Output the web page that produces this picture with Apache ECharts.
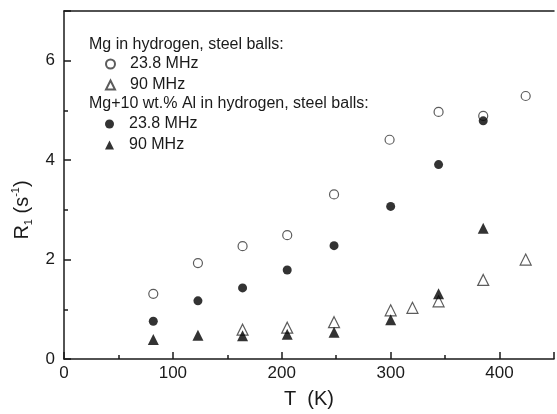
<!DOCTYPE html>
<html>
<head>
<meta charset="utf-8">
<script src="https://cdn.jsdelivr.net/npm/echarts@6/dist/echarts.min.js"></script>
<style>
  html, body { margin: 0; padding: 0; background: #fff; }
  #chart { width: 557px; height: 414px; }
</style>
</head>
<body>
<div id="chart"></div>
<script>
// Mg in hydrogen, steel balls
const tempMg238 = [82, 123, 164, 205, 248, 299, 344, 385, 424]
const rMg238 = [1.31, 1.93, 2.27, 2.49, 3.31, 4.41, 4.97, 4.89, 5.29]
const tempMg90 = [164, 205, 248, 300, 320, 344, 385, 424]
const rMg90 = [0.59, 0.63, 0.74, 0.98, 1.03, 1.16, 1.59, 2.0]
// Mg+10 wt.% Al in hydrogen, steel balls
const tempMgAl238 = [82, 123, 164, 205, 248, 300, 344, 385]
const rMgAl238 = [0.76, 1.17, 1.43, 1.79, 2.28, 3.07, 3.91, 4.79]
const tempMgAl90 = [82, 123, 164, 205, 248, 300, 344, 385]
const rMgAl90 = [0.39, 0.48, 0.47, 0.5, 0.54, 0.79, 1.31, 2.63]

const xTicks = [0, 100, 200, 300, 400]
const yTicks = [0, 2, 4, 6]

const font = 'Liberation Sans, Arial, sans-serif'
const ink = '#1a1a1a'

function pairs(xs, ys) {
  return xs.map((x, i) => [x, ys[i]])
}

let myCharts = echarts.init(document.getElementById('chart'))

myCharts.setOption({
  animation: false,
  textStyle: { fontFamily: font, color: ink },
  // legend headers
  title: [
    {
      text: 'Mg in hydrogen, steel balls:',
      left: 89, top: 37, padding: 0,
      textStyle: { fontSize: 16, fontWeight: 'normal', color: ink, fontFamily: font },
    },
    {
      text: 'Mg+10 wt.% Al in hydrogen, steel balls:',
      left: 89, top: 96, padding: 0,
      textStyle: { fontSize: 16, fontWeight: 'normal', color: ink, fontFamily: font },
    },
  ],
  legend: [
    {
      data: ['Mg 23.8 MHz', 'Mg 90 MHz'],
      orient: 'vertical',
      left: 105, top: 56, padding: 0,
      itemWidth: 9, itemHeight: 9, itemGap: 5,
      formatter: (n) => n.replace(/^\S+ /, ''),
      textStyle: { fontSize: 16, lineHeight: 15, color: ink, fontFamily: font, padding: [0, 0, 0, 10] },
    },
    {
      data: ['MgAl 23.8 MHz', 'MgAl 90 MHz'],
      orient: 'vertical',
      left: 105, top: 116, padding: 0,
      itemWidth: 9, itemHeight: 9, itemGap: 5,
      formatter: (n) => n.replace(/^\S+ /, ''),
      textStyle: { fontSize: 16, lineHeight: 15, color: ink, fontFamily: font, padding: [0, 0, 0, 10] },
    },
  ],
  grid: { left: 64, top: 11, right: -7, bottom: 52 },
  xAxis: [
    {
      type: 'value', position: 'bottom',
      min: 0, max: 450, interval: 100,
      name: 'T  (K)', nameLocation: 'middle', nameGap: 30,
      nameTextStyle: { fontSize: 20, color: ink, fontFamily: font },
      splitLine: { show: false },
      axisLine: { show: true, onZero: false, lineStyle: { color: ink, width: 1.5 } },
      axisTick: { show: true, inside: true, length: 7, lineStyle: { color: ink, width: 1.5 } },
      minorTick: { show: true, splitNumber: 2, length: 4, lineStyle: { color: ink, width: 1.5 } },
      axisLabel: {
        fontSize: 17, color: ink, margin: 6, fontFamily: font,
        formatter: (v) => (xTicks.includes(v) ? String(v) : ''),
      },
    },
    {
      type: 'value', position: 'top',
      min: 0, max: 450,
      splitLine: { show: false },
      axisLine: { show: true, onZero: false, lineStyle: { color: ink, width: 1.5 } },
      axisTick: { show: false },
      axisLabel: { show: false },
    },
  ],
  yAxis: [
    {
      type: 'value', position: 'left',
      min: 0, max: 7, interval: 2,
      name: '{a|R}{s|1}{a| (s}{p|-1}{a|)}',
      nameLocation: 'middle', nameGap: 30, nameRotate: 90,
      nameTextStyle: {
        padding: [0, 50, 0, 0],
        rich: {
          a: { fontSize: 20, lineHeight: 24, color: ink, fontFamily: font },
          s: { fontSize: 11, lineHeight: 11, verticalAlign: 'bottom', color: ink, fontFamily: font },
          p: { fontSize: 11, lineHeight: 11, verticalAlign: 'top', color: ink, fontFamily: font },
        },
      },
      splitLine: { show: false },
      axisLine: { show: true, onZero: false, lineStyle: { color: ink, width: 1.5 } },
      axisTick: { show: true, inside: true, length: 7, lineStyle: { color: ink, width: 1.5 } },
      axisLabel: {
        fontSize: 17, color: ink, margin: 9, fontFamily: font,
        formatter: (v) => (yTicks.includes(v) ? String(v) : ''),
      },
    },
    {
      type: 'value', position: 'left',
      min: 0, max: 7, interval: 1,
      splitLine: { show: false },
      axisLine: { show: false, onZero: false },
      axisTick: { show: true, inside: true, length: 4, lineStyle: { color: ink, width: 1.5 } },
      axisLabel: { show: false },
    },
  ],
  series: [
    {
      name: 'Mg 23.8 MHz', type: 'scatter',
      symbol: 'circle', symbolSize: 9,
      itemStyle: { color: '#fff', borderColor: '#333', borderWidth: 1.2 },
      data: pairs(tempMg238, rMg238),
    },
    {
      name: 'Mg 90 MHz', type: 'scatter',
      symbol: 'triangle', symbolSize: 11,
      itemStyle: { color: '#fff', borderColor: '#333', borderWidth: 1.2 },
      data: pairs(tempMg90, rMg90),
    },
    {
      name: 'MgAl 23.8 MHz', type: 'scatter',
      symbol: 'circle', symbolSize: 9,
      itemStyle: { color: '#000' },
      data: pairs(tempMgAl238, rMgAl238),
    },
    {
      name: 'MgAl 90 MHz', type: 'scatter',
      symbol: 'triangle', symbolSize: 11,
      itemStyle: { color: '#000' },
      data: pairs(tempMgAl90, rMgAl90),
    },
  ],
})
</script>
</body>
</html>
